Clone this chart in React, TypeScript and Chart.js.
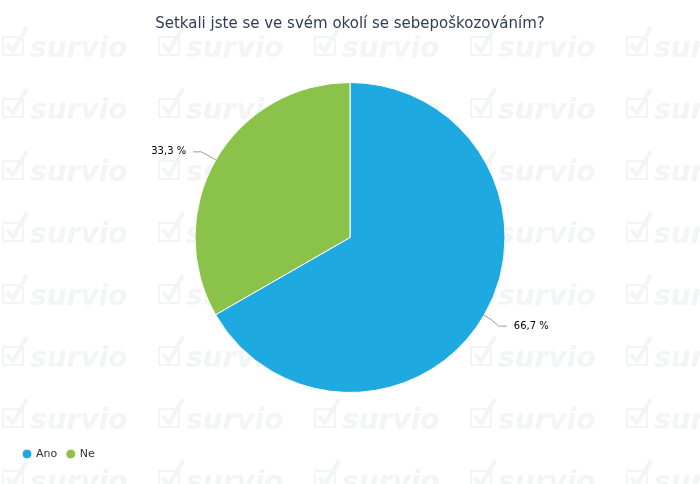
import React, { useEffect, useRef } from "react";
import { Chart, registerables } from "chart.js";
Chart.register(...registerables);

const chartTitle = "Setkali jste se ve svém okolí se sebepoškozováním?";
const categories = ["Ano", "Ne"];
const values = [66.7, 33.3];
const valueLabels = ["66,7 %", "33,3 %"];
const colors = ["#1FA9E1", "#8BC34A"];

const FONT = "'DejaVu Sans', sans-serif";

const watermark = {
  id: "watermark",
  beforeDraw(chart: any) {
    const ctx = chart.ctx;
    ctx.save();
    ctx.fillStyle = "#ffffff";
    ctx.fillRect(0, 0, chart.width, chart.height);
    ctx.fillStyle = "#f3f4f6";
    ctx.strokeStyle = "#f3f4f6";
    ctx.font = "italic bold 28px " + FONT;
    ctx.textBaseline = "alphabetic";
    for (let row = 0; row < 8; row++) {
      for (let col = 0; col < 5; col++) {
        const x0 = col * 156;
        const yb = 57 + row * 62;
        ctx.lineWidth = 2;
        ctx.strokeRect(x0 + 3, yb - 20, 20, 18);
        ctx.lineWidth = 4;
        ctx.beginPath();
        ctx.moveTo(x0 + 7, yb - 13);
        ctx.lineTo(x0 + 13, yb - 6);
        ctx.lineTo(x0 + 27, yb - 30);
        ctx.stroke();
        ctx.fillText("survio", x0 + 30, yb);
      }
    }
    ctx.restore();
  },
};

const pieLabels = {
  id: "pieLabels",
  afterDatasetsDraw(chart: any) {
    const meta = chart.getDatasetMeta(0);
    const ctx = chart.ctx;
    ctx.save();
    meta.data.forEach((arc: any, i: number) => {
      const { x, y, startAngle, endAngle, outerRadius } = arc.getProps(
        ["x", "y", "startAngle", "endAngle", "outerRadius"],
        true
      );
      const mid = (startAngle + endAngle) / 2;
      const c = Math.cos(mid);
      const s = Math.sin(mid);
      const right = c >= 0;
      const p0x = x + c * outerRadius;
      const p0y = y + s * outerRadius;
      const p1x = x + c * (outerRadius + 10);
      const p1y = y + s * (outerRadius + 10);
      const ly = p1y + (s >= 0 ? 6 : -3);
      const p2x = p1x + (right ? 14 : -14);
      ctx.strokeStyle = "#999999";
      ctx.lineWidth = 1;
      ctx.beginPath();
      ctx.moveTo(p0x, p0y);
      ctx.quadraticCurveTo(p1x, p1y, p1x + (right ? 6 : -6), ly);
      ctx.lineTo(p2x, ly);
      ctx.stroke();
      ctx.fillStyle = "#000000";
      ctx.font = "10px " + FONT;
      ctx.textBaseline = "middle";
      ctx.textAlign = right ? "left" : "right";
      ctx.fillText(valueLabels[i], p2x + (right ? 7 : -7), ly);
    });
    ctx.restore();
  },
};

export default function App() {
  const ref = useRef<HTMLCanvasElement>(null);
  useEffect(() => {
    if (!ref.current) return;
    const chart = new Chart(ref.current, {
      type: "pie",
      data: {
        labels: categories,
        datasets: [
          {
            data: values,
            backgroundColor: colors,
            borderColor: "#ffffff",
            borderWidth: 1,
            radius: 155,
          } as any,
        ],
      },
      options: {
        animation: false,
        responsive: false,
        layout: { padding: { left: 13.5, right: 13.5, bottom: 14.5, top: 0 } },
        plugins: {
          title: {
            display: true,
            text: chartTitle,
            color: "#2c3e55",
            font: { family: FONT, size: 15, weight: "normal" },
            padding: { top: 15, bottom: 3.5 },
          },
          legend: {
            display: true,
            position: "bottom",
            align: "start",
            labels: {
              usePointStyle: true,
              pointStyle: "circle",
              boxWidth: 7,
              boxHeight: 7,
              padding: 10,
              color: "#333333",
              font: { family: FONT, size: 11 },
            },
          },
          tooltip: { enabled: false },
        },
      } as any,
      plugins: [watermark, pieLabels],
    });
    return () => chart.destroy();
  }, []);
  return (
    <div style={{ position: "fixed", left: 0, top: 0, width: 700, height: 484 }}>
      <canvas ref={ref} width={700} height={484} />
    </div>
  );
}
